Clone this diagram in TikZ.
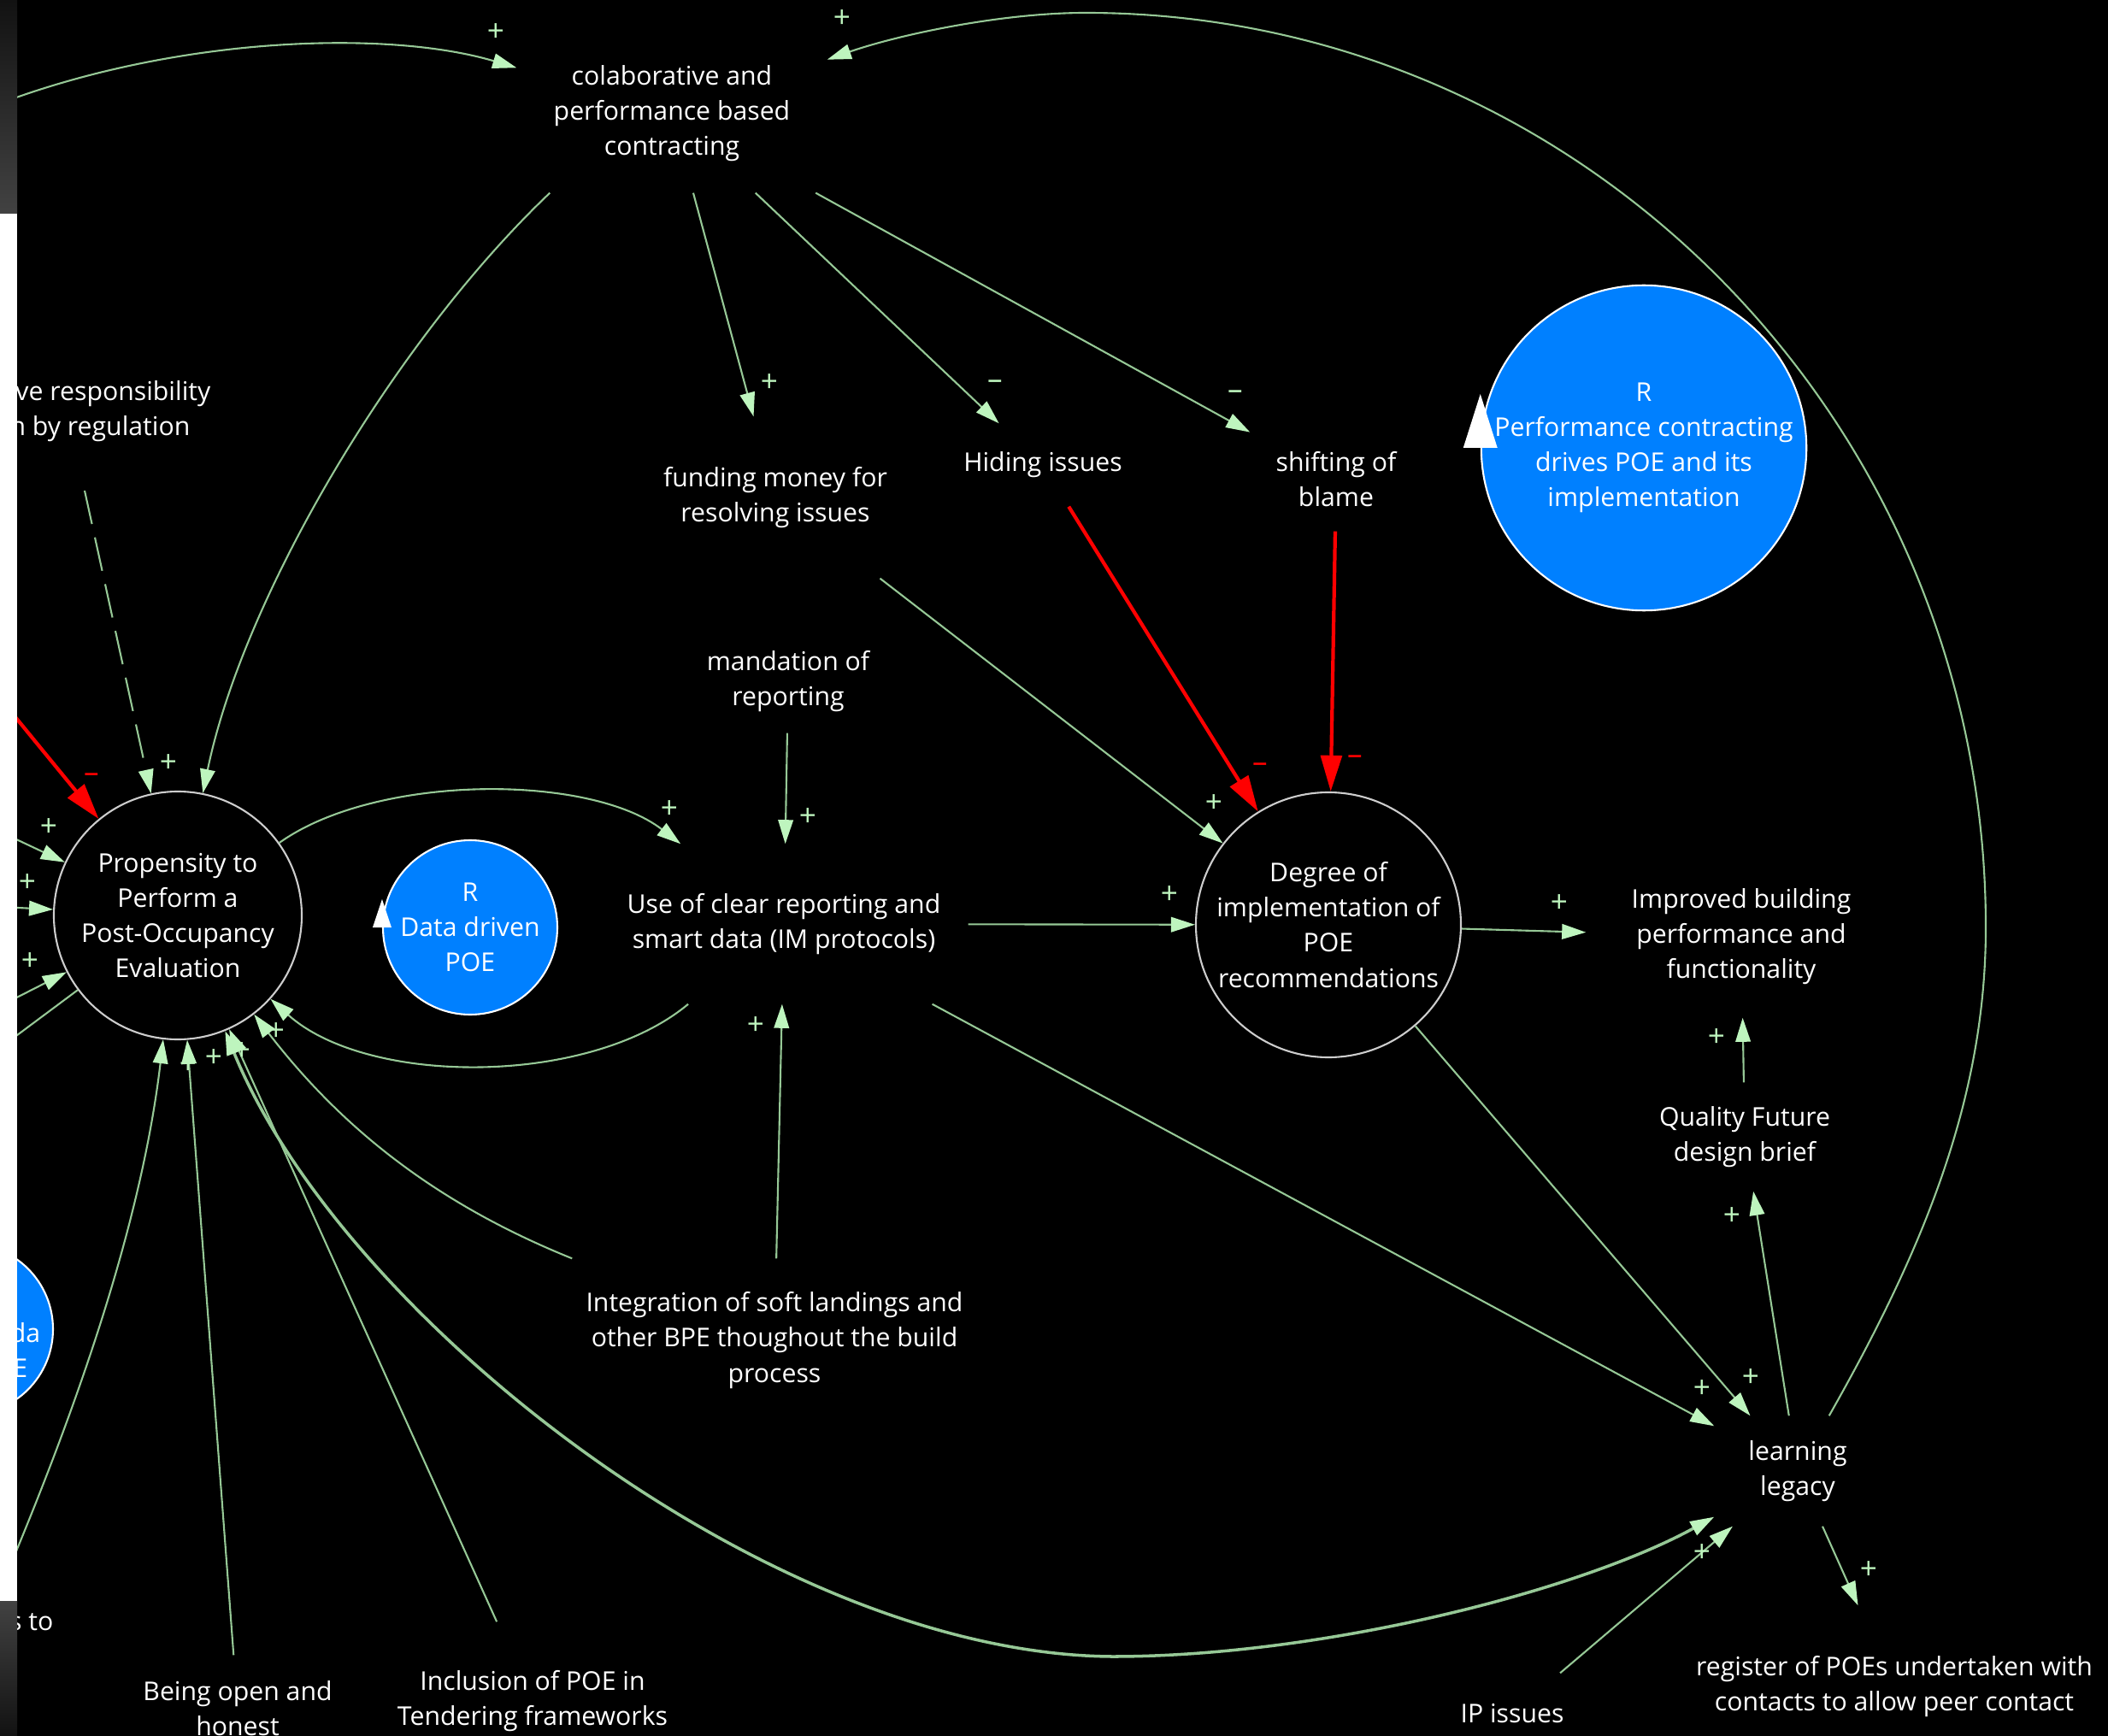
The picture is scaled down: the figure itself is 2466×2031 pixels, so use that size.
\documentclass[tikz,border=0pt]{standalone}
\usepackage{fontspec}
\setmainfont{Open Sans}
\usetikzlibrary{arrows.meta}

\begin{document}
\begin{tikzpicture}[x=0.1mm, y=-0.1mm,
    font=\fontsize{8.6}{11.7}\selectfont,
    var/.style={align=center, text=white, inner sep=0pt, yshift=-0.3mm},
    loopvar/.style={circle, draw=ringgray, line width=0.6pt, fill=black, text=white, align=center, inner sep=0pt},
    looptag/.style={circle, draw=white, line width=0.6pt, fill=loopblue, text=white, align=center, inner sep=0pt},
    link/.style={draw=linkgreen, line width=0.6pt, -{Triangle[length=8pt, width=5pt, color=tipgreen]}},
    twolink/.style={draw=linkgreen, line width=1pt, {Triangle[length=8pt, width=5pt, color=tipgreen]}-{Triangle[length=8pt, width=5pt, color=tipgreen]}},
    neglink/.style={draw=red, line width=1.2pt, -{Triangle[length=12pt, width=7pt, color=red]}},
    pol/.style={text=tipgreen, font=\fontsize{10}{10}\selectfont, inner sep=0pt},
    negpol/.style={text=red, font=\fontsize{10}{10}\selectfont, inner sep=0pt}]

      % Define colors
      \definecolor{linkgreen}{RGB}{150,200,150}
      \definecolor{tipgreen}{RGB}{190,245,190}
      \definecolor{ringgray}{RGB}{205,205,205}
      \definecolor{loopblue}{RGB}{0,128,255}
      \definecolor{stripdark}{RGB}{18,18,18}
      \definecolor{striplight}{RGB}{66,66,66}

      % Canvas
      \useasboundingbox (0,0) rectangle (2466,2031);
      \fill[black] (0,0) rectangle (2466,2031);
      \clip (0,0) rectangle (2466,2031);

      % Loop circles
      \node[loopvar, minimum size=29mm] (prop) at (208,1071) {Propensity to\\Perform a\\Post-Occupancy\\Evaluation};
      \node[loopvar, minimum size=31mm] (degree) at (1554,1082) {Degree of\\implementation of\\POE\\recommendations};
      \node[looptag, minimum size=20.4mm] (datapoe) at (550,1085) {R\\Data driven\\POE};
      \node[looptag, minimum size=37.6mm] (perfloop) at (1923,524) {R\\Performance contracting\\drives POE and its\\implementation};
      \node[looptag, minimum size=20mm] (leftloop) at (-38,1555) {};
      \node[var, anchor=east] (leftloopA) at (48,1556) {da};
      \node[var, anchor=east] (leftloopB) at (33,1598) {E};

      % Loop direction marks
      \fill[white] ([xshift=-2mm]perfloop.west) -- ([xshift=2mm]perfloop.west) -- ([yshift=6.3mm]perfloop.west) -- cycle;
      \fill[white] ([xshift=-1.1mm]datapoe.west) -- ([xshift=1.1mm]datapoe.west) -- ([yshift=3.3mm]datapoe.west) -- cycle;

      % Variables
      \node[var, minimum width=36.2mm, minimum height=18.4mm] (colab) at (786,130) {colaborative and\\performance based\\contracting};
      \node[var, minimum width=27mm, minimum height=18.8mm] (fund) at (907,579) {funding money for\\resolving issues};
      \node[var, minimum width=20mm, minimum height=9.6mm] (hide) at (1220,541) {Hiding issues};
      \node[var, minimum width=20mm, minimum height=12mm] (shift) at (1563,558) {shifting of\\blame};
      \node[var, minimum width=20mm, minimum height=12mm] (mand) at (922,794) {mandation of\\reporting};
      \node[var, minimum width=43mm, minimum height=18.6mm] (use) at (917,1078) {Use of clear reporting and\\smart data (IM protocols)};
      \node[var, minimum width=50mm, minimum height=19mm] (integ) at (906,1565) {Integration of soft landings and\\other BPE thoughout the build\\process};
      \node[var, minimum width=36.2mm, minimum height=18.8mm] (impr) at (2037,1093) {Improved building\\performance and\\functionality};
      \node[var, minimum width=22mm, minimum height=12.6mm] (qual) at (2041,1327) {Quality Future\\design brief};
      \node[var, minimum width=19.4mm, minimum height=12.8mm] (learn) at (2103,1718) {learning\\legacy};
      \node[var, minimum width=47mm, minimum height=18.8mm] (reg) at (2216,1970) {register of POEs undertaken with\\contacts to allow peer contact};
      \node[var, minimum width=13mm, minimum height=9.4mm] (ipis) at (1769,2002) {IP issues};
      \node[var, minimum width=20mm, minimum height=12.4mm] (being) at (278,1996) {Being open and\\honest};
      \node[var, minimum width=30mm, minimum height=18.4mm] (incl) at (623,1987) {Inclusion of POE in\\Tendering frameworks};

      % Cut-off variables at the left edge
      \node[var, anchor=east] (respA) at (247,458) {ve responsibility};
      \node[var, anchor=east] (respB) at (223,499) {n by regulation};
      \node[var, anchor=east] (stoA) at (63,1895) {s to};

      % Free ends
      \coordinate (respfoot) at (99,574);
      \coordinate (offcolab) at (0,121);
      \coordinate (offred) at (0,817);
      \coordinate (offa) at (0,973);
      \coordinate (offb) at (0,1061);
      \coordinate (offc) at (0,1177);
      \coordinate (offd) at (0,1226);
      \coordinate (offe) at (0,1860);

      % Links around contracting
      \draw[link] (offcolab) .. controls (210,42) and (455,35) .. (colab);
      \draw[link] (learn) .. controls (2250,1462) and (2323,1285) .. (2323,1085) .. controls (2323,494) and (1851,15) .. (1270,15) .. controls (1170,15) and (1050,41) .. (colab);
      \draw[link] (colab.213) .. controls (460,400) and (284,700) .. (prop);
      \draw[link] (colab) -- (fund);
      \draw[link] (colab) -- (hide);
      \draw[link] (colab) -- (shift);

      % Links into propensity
      \draw[link, dash pattern=on 4mm off 1.6mm] (respfoot) -- (prop);
      \draw[neglink] (offred) -- (prop);
      \draw[link] (offa) -- (prop);
      \draw[link] (offb) -- (prop);
      \draw[link] (offc) -- (prop);
      \draw[link, -] (prop) -- (offd);
      \draw[link] (offe) .. controls (98,1630) and (167,1419) .. (prop);
      \draw[link] (being) -- (prop);
      \draw[link] (incl) -- (prop);
      \draw[link] (integ) .. controls (510,1408) and (400,1320) .. (prop);
      \draw[twolink] (prop) .. controls (400,1540) and (900,1935) .. (1301,1938) .. controls (1550,1938) and (1850,1860) .. (learn);

      % Data loop
      \draw[link] (prop) .. controls (440,905) and (690,905) .. (use);
      \draw[link] (use) .. controls (690,1271) and (430,1271) .. (prop);
      \draw[link] (mand) -- (use);
      \draw[link] (integ) -- (use);

      % Implementation
      \draw[link] (fund) -- (degree);
      \draw[neglink] (hide) -- (degree);
      \draw[neglink] (shift) -- (degree);
      \draw[link] (use) -- (degree);
      \draw[link] (degree) -- (impr);
      \draw[link] (use) -- (learn);
      \draw[link] (degree) -- (learn);

      % Learning legacy
      \draw[link] (qual) -- (impr);
      \draw[link] (learn) -- (qual);
      \draw[link] (learn) -- (reg);
      \draw[link] (ipis) -- (learn);

      % Polarities
      \node[pol] (s1) at (580,38) {+};
      \node[pol] (s2) at (985,22) {+};
      \node[pol] (s3) at (197,893) {+};
      \node[negpol] (s4) at (107,910) {–};
      \node[pol] (s5) at (57,968) {+};
      \node[pol] (s6) at (32,1033) {+};
      \node[pol] (s7) at (35,1125) {+};
      \node[pol] (s8) at (783,947) {+};
      \node[pol] (s9) at (323,1207) {+};
      \node[pol] (s10) at (283,1230) {+};
      \node[pol] (s11) at (250,1238) {+};
      \node[pol] (s12) at (220,1246) {+};
      \node[pol] (s13) at (945,956) {+};
      \node[pol] (s14) at (884,1200) {+};
      \node[pol] (s15) at (900,448) {+};
      \node[pol] (s16) at (1164,450) {–};
      \node[pol] (s17) at (1445,462) {–};
      \node[pol] (s18) at (1420,940) {+};
      \node[negpol] (s19) at (1474,898) {–};
      \node[negpol] (s20) at (1585,889) {–};
      \node[pol] (s21) at (1368,1047) {+};
      \node[pol] (s22) at (1991,1625) {+};
      \node[pol] (s23) at (2048,1612) {+};
      \node[pol] (s24) at (1824,1057) {+};
      \node[pol] (s25) at (2008,1214) {+};
      \node[pol] (s26) at (2026,1423) {+};
      \node[pol] (s27) at (2186,1837) {+};
      \node[pol] (s28) at (1991,1817) {+};

      % Window edge
      \shade[top color=stripdark, bottom color=striplight] (0,0) rectangle (20,250);
      \fill[white] (0,250) rectangle (20,1873);
      \shade[top color=striplight, bottom color=stripdark] (0,1873) rectangle (20,2031);

    \end{tikzpicture}
\end{document}
